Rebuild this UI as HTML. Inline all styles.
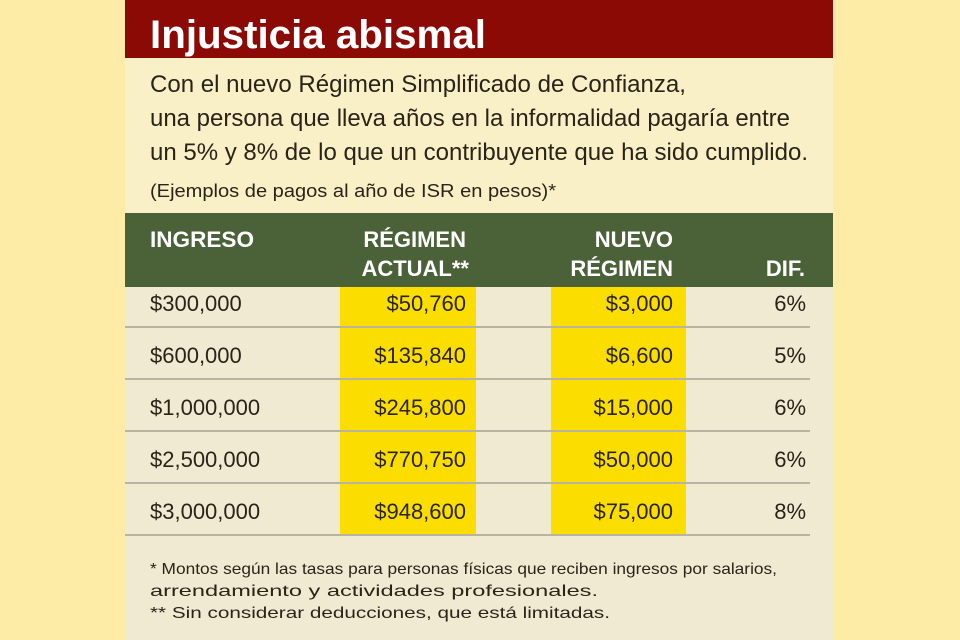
<!DOCTYPE html>
<html><head><meta charset="utf-8"><style>
html,body{margin:0;padding:0;background:#FDECA6;}
svg{display:block;font-family:"Liberation Sans",sans-serif;}
</style></head><body>
<svg id="s" width="960" height="640" viewBox="0 0 960 640">
<rect x="0" y="0" width="960" height="640" fill="#FDECA6"/>
<rect x="125" y="0" width="708" height="640" fill="#FAF0C8"/>
<rect x="125" y="287" width="708" height="353" fill="#F0EAD3"/>
<rect x="125" y="0" width="708" height="58" fill="#8C0A06"/>
<text x="150" y="48" fill="#fff" font-size="40" font-weight="bold" textLength="336" lengthAdjust="spacingAndGlyphs">Injusticia abismal</text>
<g fill="#2a2418">
<text x="150" y="92" font-size="24" textLength="536" lengthAdjust="spacingAndGlyphs">Con el nuevo Régimen Simplificado de Confianza,</text>
<text x="150" y="126" font-size="24" textLength="640" lengthAdjust="spacingAndGlyphs">una persona que lleva años en la informalidad pagaría entre</text>
<text x="150" y="160" font-size="24" textLength="658" lengthAdjust="spacingAndGlyphs">un 5% y 8% de lo que un contribuyente que ha sido cumplido.</text>
<text x="150" y="197" font-size="18" textLength="406" lengthAdjust="spacingAndGlyphs">(Ejemplos de pagos al año de ISR en pesos)*</text>
</g>
<rect x="125" y="213" width="708" height="74" fill="#4B6238"/>
<g fill="#fff" font-size="22" font-weight="bold">
<text x="150" y="247" textLength="104" lengthAdjust="spacingAndGlyphs">INGRESO</text>
<text x="466" y="247" text-anchor="end">RÉGIMEN</text>
<text x="469" y="276" text-anchor="end">ACTUAL**</text>
<text x="673" y="247" text-anchor="end">NUEVO</text>
<text x="673" y="276" text-anchor="end">RÉGIMEN</text>
<text x="805" y="276" text-anchor="end">DIF.</text>
</g>
<rect x="340" y="287" width="136" height="248" fill="#FBDE00"/>
<rect x="551" y="287" width="135" height="248" fill="#FBDE00"/>
<g id="rows"></g>
<g fill="#2a2418" font-size="16">
<text x="150" y="574" textLength="627" lengthAdjust="spacingAndGlyphs">* Montos según las tasas para personas físicas que reciben ingresos por salarios,</text>
<text x="150" y="596" textLength="448" lengthAdjust="spacingAndGlyphs">arrendamiento y actividades profesionales.</text>
<text x="150" y="618" textLength="460" lengthAdjust="spacingAndGlyphs">** Sin considerar deducciones, que está limitadas.</text>
</g>
</svg>
<script>
const ingresos = ["$300,000","$600,000","$1,000,000","$2,500,000","$3,000,000"];
const actual = ["$50,760","$135,840","$245,800","$770,750","$948,600"];
const nuevo = ["$3,000","$6,600","$15,000","$50,000","$75,000"];
const dif = ["6%","5%","6%","6%","8%"];
const NS="http://www.w3.org/2000/svg";
const g=document.getElementById('rows');
function txt(x,y,s,anchor,name){
  const t=document.createElementNS(NS,'text');
  t.setAttribute('x',x);t.setAttribute('y',y);
  t.setAttribute('font-size','22');t.setAttribute('fill','#2a2418');
  if(anchor)t.setAttribute('text-anchor',anchor);
  
  
  t.textContent=s;g.appendChild(t);
}
ingresos.forEach((v,i)=>{
  const top=287+(i===0?-12:0)+i*52;
  const base=311+i*52;
  txt(150,base,ingresos[i],null,'ingreso-cell');
  txt(466,base,actual[i],'end','actual-cell');
  txt(673,base,nuevo[i],'end','nuevo-cell');
  txt(806,base,dif[i],'end','dif-cell');
  const l=document.createElementNS(NS,'line');
  l.setAttribute('x1',125);l.setAttribute('x2',810);
  l.setAttribute('y1',327+i*52);l.setAttribute('y2',327+i*52);
  l.setAttribute('stroke','#b9b3a3');l.setAttribute('stroke-width','2');
  
  
  g.appendChild(l);
});
</script>
</body></html>
